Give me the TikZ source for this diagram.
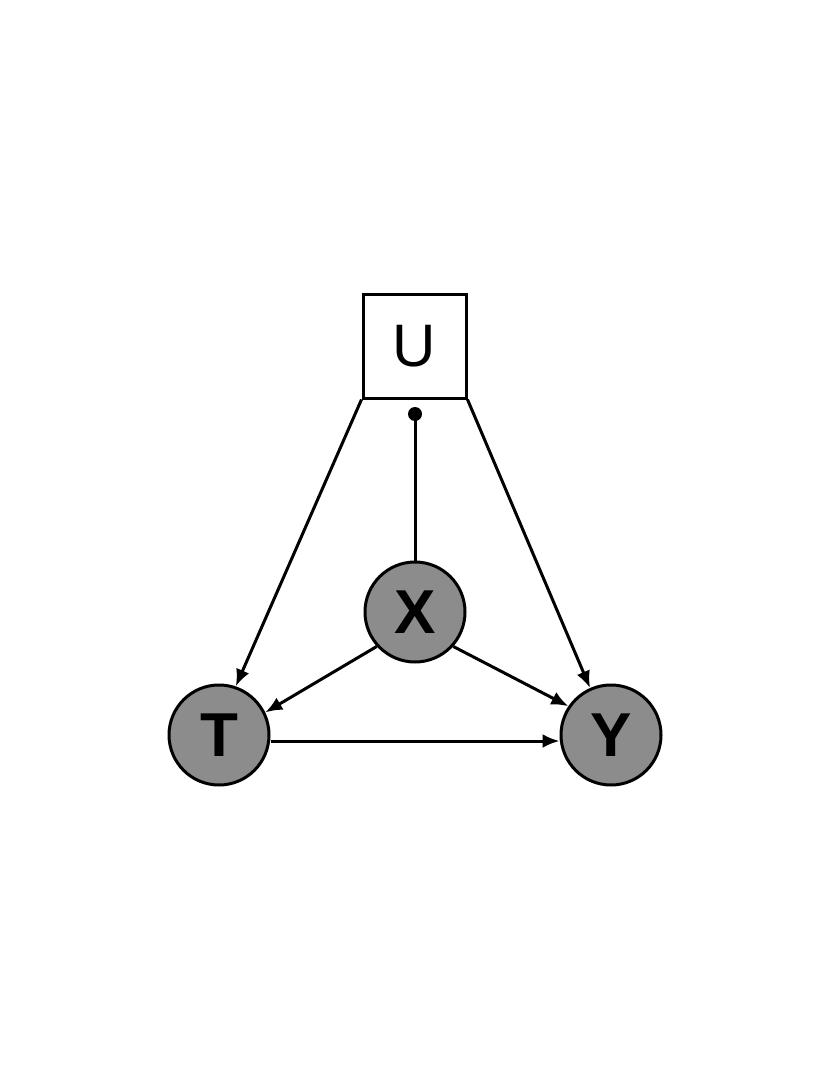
\documentclass[tikz,border=0pt]{standalone}
\usepackage{fontspec}
\setmainfont{Liberation Sans}
\usetikzlibrary{arrows.meta}
\begin{document}
\begin{tikzpicture}[x=1pt,y=-1pt,
  var/.style={circle,draw,line width=3pt,fill={rgb,255:red,140;green,140;blue,140},minimum size=100pt,inner sep=0pt,font=\fontsize{62}{62}\selectfont\bfseries},
  arr/.style={line width=3pt,-{Latex[length=17pt,width=14pt]}}]
\useasboundingbox (0,0) rectangle (830,1075);
\fill[white] (0,0) rectangle (830,1075);
\node[draw,line width=3pt,minimum width=103pt,minimum height=104pt,inner sep=0pt,font=\fontsize{60}{60}\selectfont] (U) at (414.5,346) {U};
\node[var] (X) at (415,612) {X};
\node[var] (T) at (219,735) {T};
\node[var] (Y) at (611,735) {Y};
\coordinate (dot) at (415,414);
\fill (dot) circle (7pt);
\draw[line width=3pt] (X.north) -- (dot);
\draw[arr] (U.south west) -- (T.71);
\draw[arr] (U.south east) -- (Y.114);
\draw[arr] (X.222) -- (T.26);
\draw[arr] (X.-42) -- (Y.146);
\draw[arr] ([yshift=-6pt]T.east) -- ([yshift=-6pt]Y.west);
\end{tikzpicture}
\end{document}
